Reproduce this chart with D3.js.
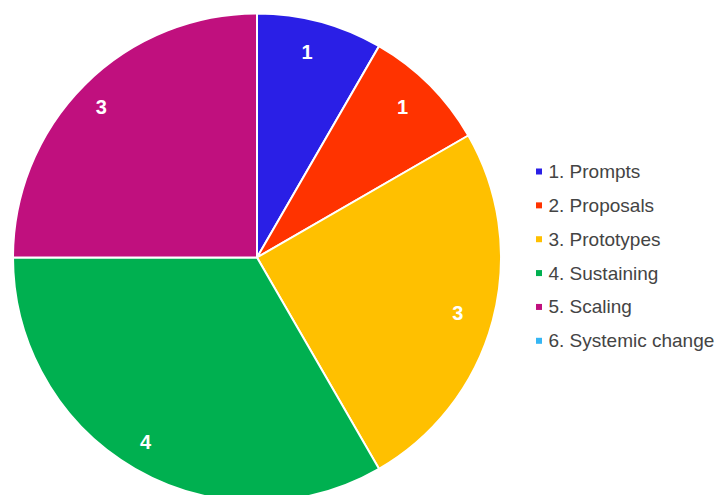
<!DOCTYPE html>
<html>
<head>
<meta charset="utf-8">
<script src="https://cdn.jsdelivr.net/npm/d3@7"></script>
<style>
  html, body { margin: 0; padding: 0; background: #ffffff; }
  svg { display: block; }
</style>
</head>
<body>
<svg id="chart" width="718" height="495"></svg>
<script>
// Stage categories and counts
const categories = ["1. Prompts", "2. Proposals", "3. Prototypes", "4. Sustaining", "5. Scaling", "6. Systemic change"];
const counts = [1, 1, 3, 4, 3, 0];
const colors = ["#2a1fe6", "#ff3300", "#ffc000", "#00b050", "#c0107e", "#35b6f4"];

const width = 718, height = 495;
const cx = 257, cy = 257.5, radius = 244;

const svg = d3.select("#chart");

const pie = d3.pie().value(d => d.value).sort(null);
const rows = categories.map((c, i) => ({ name: c, value: counts[i], color: colors[i] }));
const arcs = pie(rows);

const arc = d3.arc().innerRadius(0).outerRadius(radius);
const labelArc = d3.arc().innerRadius(213).outerRadius(213);

const g = svg.append("g").attr("transform", `translate(${cx},${cy})`);

g.selectAll("path.slice")
  .data(arcs.filter(d => d.value > 0))
  .join("path")
  .attr("class", "slice")
  .attr("d", arc)
  .attr("fill", d => d.data.color)
  .attr("stroke", "#ffffff")
  .attr("stroke-width", 2);

g.selectAll("text.val")
  .data(arcs.filter(d => d.value > 0))
  .join("text")
  .attr("class", "val")
  .attr("x", d => labelArc.centroid(d)[0] - 5)
  .attr("y", d => labelArc.centroid(d)[1] + 0.5)
  .attr("text-anchor", "middle")
  .attr("dominant-baseline", "central")
  .attr("fill", "#ffffff")
  .attr("font-family", "Liberation Sans, Arial, sans-serif")
  .attr("font-weight", "bold")
  .attr("font-size", 20)
  .text(d => d.value);

// Legend
const legendY = d3.scalePoint().domain(categories).range([171.5, 340.8]);
const legend = svg.append("g");
const item = legend.selectAll("g.item")
  .data(rows)
  .join("g")
  .attr("class", "item")
  .attr("transform", d => `translate(536,${legendY(d.name)})`);

item.append("rect")
  .attr("x", 0).attr("y", -3)
  .attr("width", 6).attr("height", 6)
  .attr("fill", d => d.color);

item.append("text")
  .attr("x", 12.5)
  .attr("y", 0)
  .attr("dominant-baseline", "central")
  .attr("fill", "#444444")
  .attr("font-family", "Liberation Sans, Arial, sans-serif")
  .attr("font-size", 19)
  .text(d => d.name);
</script>
</body>
</html>
